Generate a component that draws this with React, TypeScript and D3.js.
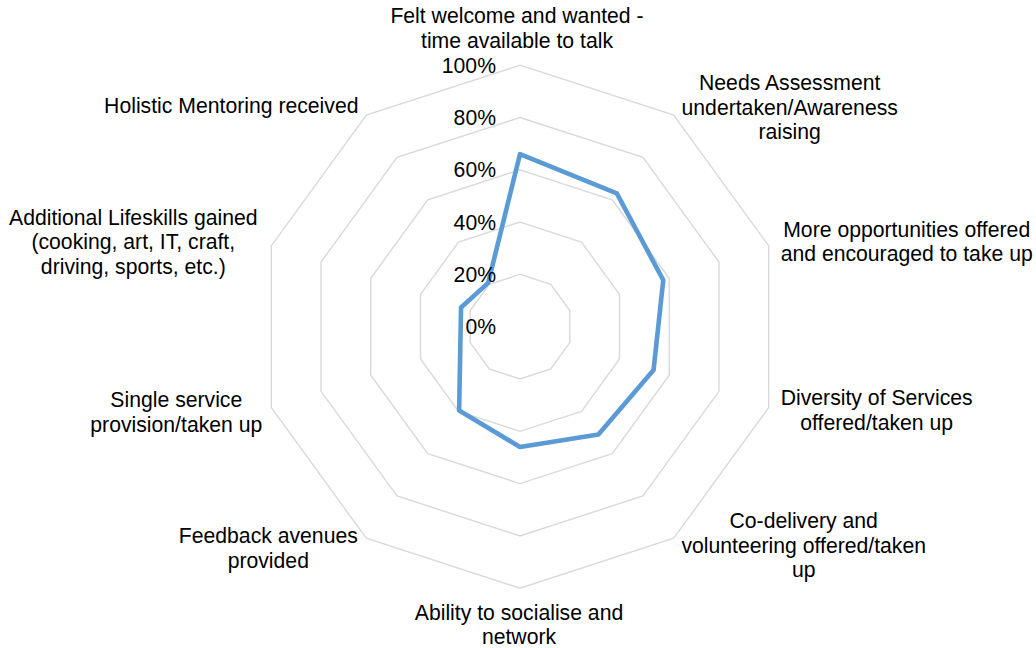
import React from "react";
import * as d3 from "d3";

const categories: string[][] = [
  ["Felt welcome and wanted -", "time available to talk"],
  ["Needs Assessment", "undertaken/Awareness", "raising"],
  ["More opportunities offered", "and encouraged to take up"],
  ["Diversity of Services", "offered/taken up"],
  ["Co-delivery and", "volunteering offered/taken", "up"],
  ["Ability to socialise and", "network"],
  ["Feedback avenues", "provided"],
  ["Single service", "provision/taken up"],
  ["Additional Lifeskills gained", "(cooking, art, IT, craft,", "driving, sports, etc.)"],
  ["Holistic Mentoring received"],
];

const values: number[] = [0.66, 0.63, 0.576, 0.537, 0.51, 0.46, 0.396, 0.24, 0.237, 0.207];

const ticks: number[] = [0, 0.2, 0.4, 0.6, 0.8, 1.0];

// label block offsets from each outer vertex (center x, first baseline)
const labelOffsets: [number, number][] = [
  [-3, -42],
  [116, -25],
  [138, -9],
  [108, -2.5],
  [130, -10],
  [-1, 31.5],
  [-98, 5],
  [-95, -0.5],
  [-138, -21],
  [-135, -2],
];

const W = 1036;
const H = 648;
const CX = 520;
const CY = 326.7;
const R = 261.5;
const FONT = "'Liberation Sans', Arial, sans-serif";
const FS = 21.2;
const LH = 24.6;

export default function App() {
  const n = categories.length;
  const angle = d3.scaleLinear().domain([0, n]).range([0, 2 * Math.PI]);
  const r = d3.scaleLinear().domain([0, 1]).range([0, R]);
  const pt = (i: number, v: number): [number, number] => {
    const a = angle(i);
    return [CX + r(v) * Math.sin(a), CY - r(v) * Math.cos(a)];
  };
  const ringLine = d3.line<[number, number]>().curve(d3.curveLinearClosed);
  const fmt = d3.format(".0%");

  return (
    <svg
      width={W}
      height={H}
      style={{ position: "absolute", left: 0, top: 0, background: "#fff" }}
      fontFamily={FONT}
    >
      {ticks.slice(1).map((t) => (
        <path
          key={"ring" + t}
          d={ringLine(d3.range(n).map((i) => pt(i, t))) || ""}
          fill="none"
          stroke="#d9d9d9"
          strokeWidth={1.4}
        />
      ))}
      <path
        d={ringLine(values.map((v, i) => pt(i, v))) || ""}
        fill="none"
        stroke="#5b9bd5"
        strokeWidth={4.6}
        strokeLinejoin="round"
      />
      {ticks.map((t) => (
        <text
          key={"tick" + t}
          x={496}
          y={CY - r(t) + 7.4}
          textAnchor="end"
          fontSize={FS}
          fill="#000"
        >
          {fmt(t)}
        </text>
      ))}
      {categories.map((lines, i) => {
        const [vx, vy] = pt(i, 1);
        const [ox, oy] = labelOffsets[i];
        return (
          <text key={"lab" + i} textAnchor="middle" fontSize={FS} fill="#000">
            {lines.map((ln, j) => (
              <tspan key={j} x={vx + ox} y={vy + oy + j * LH}>
                {ln}
              </tspan>
            ))}
          </text>
        );
      })}
    </svg>
  );
}
